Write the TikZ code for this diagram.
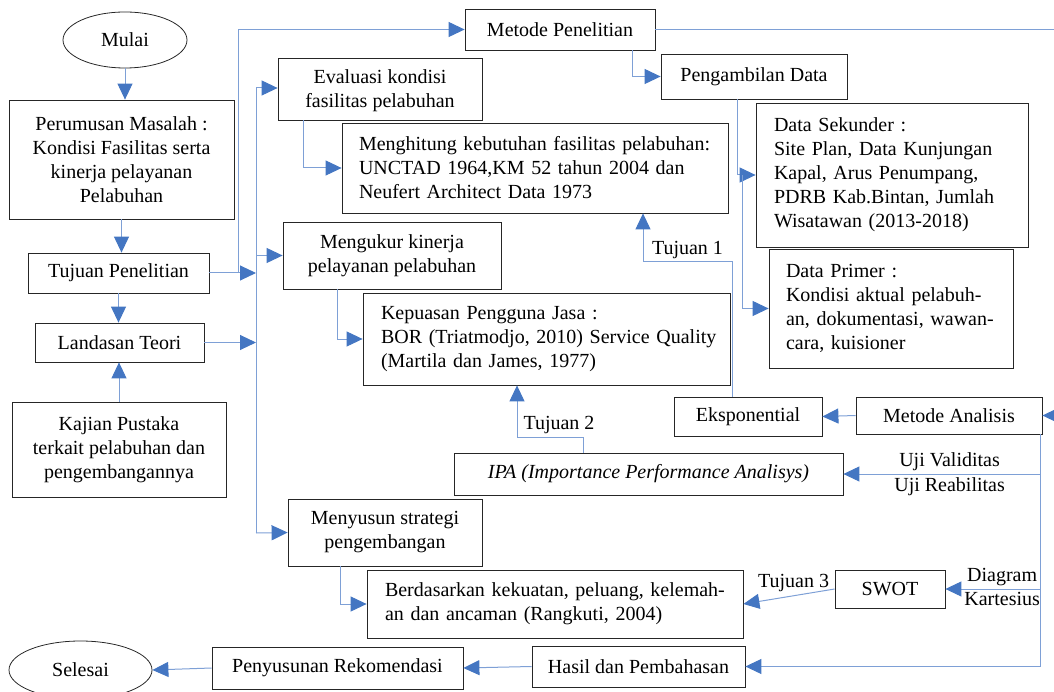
\documentclass[tikz,border=0pt]{standalone}
\usepackage{fontspec}
\setmainfont{Liberation Serif}
\usetikzlibrary{shapes.geometric}
\usetikzlibrary{arrows.meta}
\usetikzlibrary{positioning}

\definecolor{lineblue}{RGB}{126,160,214}
\definecolor{tipblue}{RGB}{68,118,194}
\newcommand{\jl}[1]{\makebox[\hsize][s]{#1}}

\begin{document}
\begin{tikzpicture}[x=1pt, y=-1pt, every node/.style={font=\fontsize{20}{24}\selectfont},
    box/.style={draw=black!85, line width=0.8pt, inner sep=0pt, align=center},
    tbox/.style={draw=black!85, line width=0.8pt, inner ysep=0pt, inner xsep=17pt, align=left},
    oval/.style={ellipse, draw=black!85, line width=0.8pt, inner sep=0pt},
    conn/.style={draw=lineblue, line width=1pt},
    arr/.style={conn, -{Triangle[length=16pt, width=15pt, color=tipblue]}},
    lbl/.style={inner sep=3pt}]
        \useasboundingbox (0,0) rectangle (1054,692);
        % Define the x position of the bus
        \def\busx{256}
        % Define the x position of the right side line
        \def\rightx{1040}

        % Draw the left column
        \node[oval, minimum width=124, minimum height=56] (mulai) at (125,40) {Mulai};
        \node[box, minimum width=225, minimum height=119] (rumusan) at (121.5,159.5) {Perumusan Masalah :\\Kondisi Fasilitas serta\\kinerja pelayanan\\Pelabuhan};
        \node[box, minimum width=181, minimum height=40] (tujuan) at (118.5,273) {Tujuan Penelitian};
        \node[box, minimum width=169, minimum height=39] (landasan) at (119.5,342.5) {Landasan Teori};
        \node[box, minimum width=214, minimum height=95] (kajian) at (119,449.5) {Kajian Pustaka\\terkait pelabuhan dan\\pengembangannya};

        % Draw the research goals
        \node[box, minimum width=190, minimum height=41] (metode) at (560,29.5) {Metode Penelitian};
        \node[box, minimum width=204, minimum height=62, text depth=0pt] (evaluasi) at (380,89) {Evaluasi kondisi\\fasilitas pelabuhan};
        \node[tbox, text width=352, minimum height=90] (hitung) at (535,168) {\jl{Menghitung kebutuhan fasilitas pelabuhan:}\\\jl{UNCTAD 1964,KM 52 tahun 2004 dan}\\Neufert Architect Data 1973};
        \node[box, minimum width=218, minimum height=67] (ukur) at (392,255.5) {Mengukur kinerja\\pelayanan pelabuhan};
        \node[tbox, text width=341, inner xsep=13pt, minimum height=92] (puas) at (546.5,339) {\hspace*{5pt}Kepuasan Pengguna Jasa :\\\hspace*{5pt}BOR (Triatmodjo, 2010) Service Quality\\\hspace*{5pt}(Martila dan James, 1977)};
        \node[box, minimum width=194, minimum height=67] (susun) at (385,532.5) {Menyusun strategi\\pengembangan};
        \node[tbox, text width=340, inner xsep=18pt, minimum height=68] (dasar) at (555,604) {\jl{Berdasarkan kekuatan, peluang, kelemah-}\\an dan ancaman (Rangkuti, 2004)};

        % Draw the data and analysis boxes
        \node[box, minimum width=186, minimum height=45] (ambil) at (754,76.5) {Pengambilan Data};
        \node[tbox, text width=236, inner xsep=18pt, minimum height=144] (sekunder) at (892,175) {Data Sekunder :\\\jl{Site Plan, Data Kunjungan}\\\jl{Kapal, Arus Penumpang,}\\\jl{PDRB Kab.Bintan, Jumlah}\\Wisatawan (2013-2018)};
        \node[tbox, text width=210, minimum height=119] (primer) at (891,308.5) {Data Primer :\\\jl{Kondisi aktual pelabuh-}\\\jl{an, dokumentasi, wawan-}\\cara, kuisioner};
        \node[box, minimum width=148, minimum height=39] (ekspo) at (748,416.5) {Eksponential};
        \node[box, minimum width=186, minimum height=37] (analisis) at (949,415.5) {Metode Analisis};
        \node[box, minimum width=389, minimum height=42] (ipa) at (648.5,474) {\textit{IPA (Importance Performance Analisys)}};
        \node[box, minimum width=110, minimum height=38] (swot) at (890,589) {SWOT};

        % Draw the bottom row
        \node[box, minimum width=213, minimum height=41] (hasil) at (638.5,666.5) {Hasil dan Pembahasan};
        \node[box, minimum width=251, minimum height=42] (rekom) at (337.5,668) {Penyusunan Rekomendasi};
        \node[oval, minimum width=143, minimum height=58] (selesai) at (80.5,670) {Selesai};

        % Coordinates for the corners
        \coordinate (t1) at (238,273);
        \coordinate (busA) at (\busx,88);
        \coordinate (busB) at (\busx,533);
        \coordinate (k1) at (643,262);
        \coordinate (k2) at (517,437);
        \coordinate (p1) at (742,175);
        \coordinate (edge) at (1062,29.5);
        \coordinate (a1) at (\rightx,434);

        % Left column arrows
        \draw[arr] (mulai.south) -- (mulai.south |- rumusan.north);
        \draw[arr] (rumusan.south) -- (rumusan.south |- tujuan.north);
        \draw[arr] (tujuan.south) -- (tujuan.south |- landasan.north);
        \draw[arr] (kajian.north) -- (kajian.north |- landasan.south);

        % Bus to the goals
        \draw[arr] (tujuan.east) -- (\busx,273);
        \draw[arr] (landasan.east) -- (\busx,342.5);
        \draw[arr] (t1) |- (metode.west);
        \draw[conn] (busA) -- (busB);
        \draw[arr] (busA) -- (busA -| evaluasi.west);
        \draw[arr] (busA |- ukur.west) -- (ukur.west);
        \draw[arr] (busB) -- (susun.west);

        \draw[arr] ([xshift=-77]evaluasi.south) |- (hitung.west);
        \draw[arr] ([xshift=-55]ukur.south) |- (puas.west);
        \draw[arr] ([xshift=-45]susun.south) |- (dasar.west);

        % Data collection
        \draw[arr] ([xshift=72]metode.south) |- (ambil.west);
        \draw[arr] ([xshift=-17]ambil.south) |- (sekunder.west);
        \draw[arr] (p1) |- (primer.west);

        % Analysis
        \draw[arr] (metode.east) -- (edge) |- (analisis.east);
        \draw[arr] (analisis.west) -- (ekspo.east);
        \draw[arr] ([xshift=-16]ekspo.north) |- node[lbl, pos=0.75, above] {Tujuan 1} (k1) -- (k1 |- hitung.south);
        \draw[arr] ([xshift=-65]ipa.north) |- (k2) node[lbl, above right, xshift=3] {Tujuan 2} -- (k2 |- puas.south);
        \draw[arr] (a1) |- node[lbl, pos=0.73, above] {Uji Validitas} node[lbl, pos=0.73, below] {Uji Reabilitas} (ipa.east);
        \draw[arr] (a1) |- node[lbl, pos=0.7, above] {Diagram} node[lbl, pos=0.7, below] {Kartesius} (swot.east);
        \draw[arr] (swot.west) -- node[lbl, pos=0.45, above] {Tujuan 3} (dasar.east);
        \draw[arr] (a1) |- (hasil.east);

        % Bottom row
        \draw[arr] (hasil.west) -- (rekom.east);
        \draw[arr] (rekom.west) -- (selesai.east);
      \end{tikzpicture}
\end{document}
